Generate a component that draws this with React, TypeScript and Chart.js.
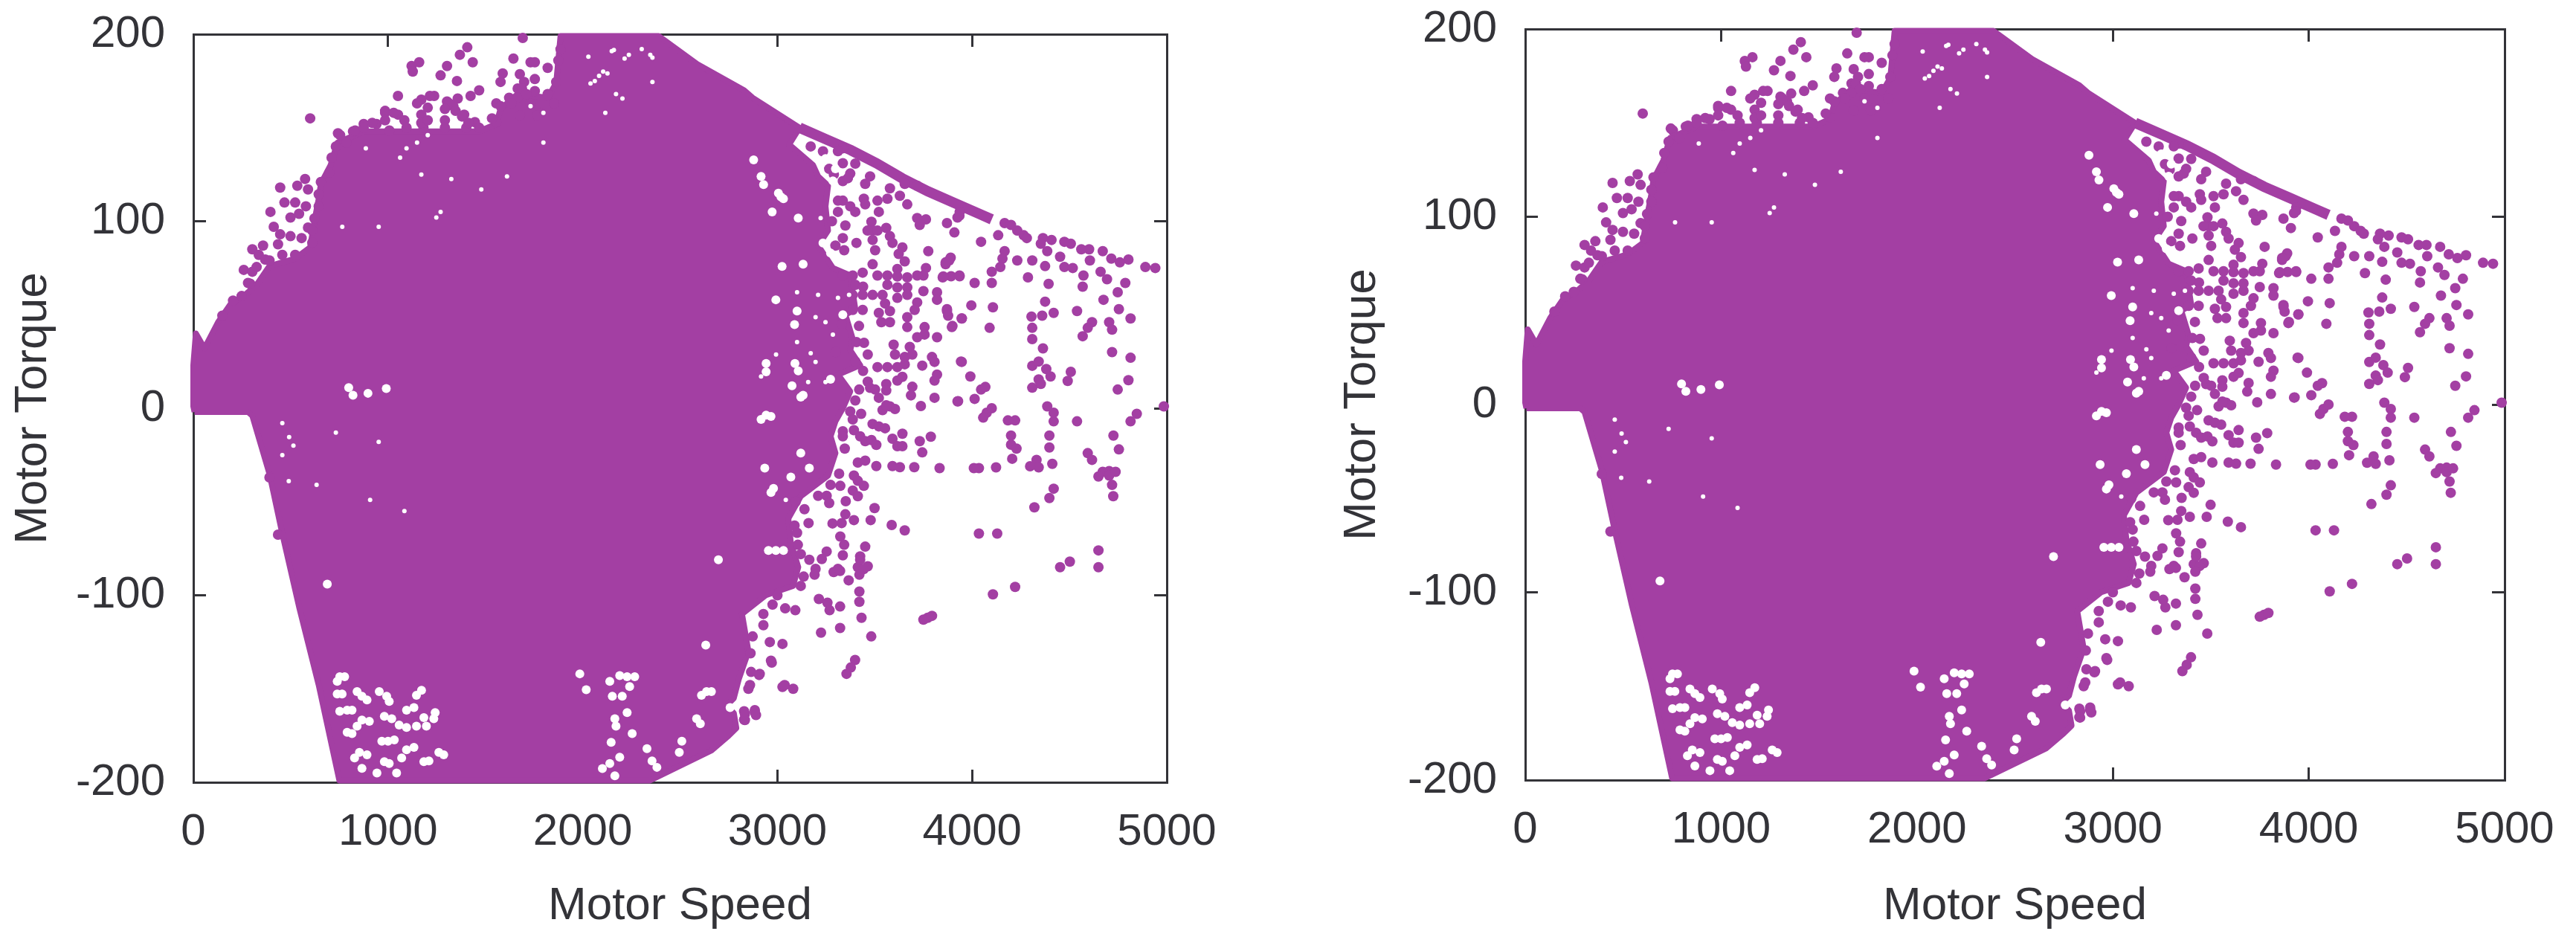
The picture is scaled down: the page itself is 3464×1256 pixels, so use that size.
import React, { useEffect, useRef } from "react";
import { Chart, registerables } from "chart.js";

Chart.register(...registerables);

type Pair = [number, number];

const xTicks = [0, 1000, 2000, 3000, 4000, 5000];
const yTicks = [-200, -100, 0, 100, 200];
const xTitle = "Motor Speed";
const yTitle = "Motor Torque";

// Outline of the saturated part of the cloud (speed, torque)
const denseOutline: Pair[] = [
  [6, -2], [0, 1], [0, 23], [13, 40], [57, 32], [127, 46], [193, 56], [259, 60], [325, 66], [391, 76], [523, 80], [600, 86], [622, 100],
  [644, 112], [655, 120], [705, 130], [740, 142], [875, 148], [1095, 148], [1468, 148], [1556, 152], [1578, 160], [1666, 168], [1820, 166],
  [1864, 174], [1886, 199], [2390, 199], [2588, 184], [2829, 170], [2873, 166], [3114, 150], [3060, 141], [3183, 130], [3209, 124], [3260, 119],
  [3247, 108], [3260, 95], [3209, 87], [3285, 75], [3374, 71], [3400, 53], [3349, 50], [3387, 37], [3374, 31], [3425, 23], [3311, 18], [3374, 9],
  [3336, 0], [3298, -7], [3273, -15], [3298, -24], [3260, -36], [3120, -47], [3056, -59], [3069, -72], [3107, -85], [3080, -95], [2939, -100],
  [2818, -110], [2851, -130], [2801, -145], [2776, -155], [2738, -159], [2776, -163], [2789, -171], [2750, -175], [2661, -183], [2483, -192],
  [2346, -199], [750, -199], [644, -148], [545, -107], [457, -67], [391, -35], [303, -4], [281, -2], [6, -2],
];

// Upper torque limit followed by the fast samples
const envelope: Pair[] = [
  [3114, 150], [3246, 144], [3377, 138], [3509, 131], [3640, 123], [3772, 116], [3904, 110], [4035, 104], [4101, 101],
];

const scatterRight: Pair[] = [
  [4941, 75], [4890, 75.5], [4803, 79.5], [4759, 78], [4715, 80], [4671, 84], [4601, 85], [4561, 85], [4507, 88], [4474, 89], [4408, 90],
  [4364, 91], [4353, 88], [4386, 84], [4375, 76], [4452, 81], [4474, 75.5], [4517, 75], [4572, 71], [4605, 79], [4660, 73], [4693, 69],
  [4787, 67], [4568, 65], [4393, 66.5], [4287, 70], [4309, 79], [4232, 79], [4156, 80], [4145, 75.5], [4101, 73], [4167, 84], [4134, 92.5],
  [4046, 89], [4232, 95], [4265, 92.5], [4281, 91], [4167, 99], [4200, 98], [4375, 57], [4675, 58], [4748, 62], [4754, 53], [4814, 48],
  [4539, 52], [4419, 51], [4360, 49.5], [4305, 49], [4309, 43], [4309, 37], [4364, 32], [4616, 46], [4594, 43], [4568, 38.5], [4704, 46],
  [4719, 42], [4719, 30], [4814, 27], [4803, 15], [4748, 10], [4985, 1], [4846, -3], [4814, -7], [4726, -14.6], [4754, -22], [4539, -7],
  [4386, 1], [4419, -2.4], [4419, -7], [4397, -14.6], [4397, -21], [4221, -6.5], [4184, -6.5], [4200, -14.6], [4200, -19.5], [4228, -21.6],
  [4206, -27], [4331, -27.6], [4342, -31.6], [4412, -29.7], [4298, -31], [4594, -24], [4616, -27.6], [4704, -33.6], [4671, -34], [4123, -31.6],
  [4035, -32], [4009, -32], [4075, -2.4], [4101, 0], [4057, -5], [3925, 3.7], [4013, 5], [4046, 10], [4068, 11.4], [3991, 17], [3943, 25],
  [4309, 22.7], [4342, 25], [4381, 21], [4403, 17], [4342, 15.4], [4309, 11], [4353, 13], [4507, 19.5], [4491, 14.6],
  [4090, 43], [4107, 54], [3996, 55], [3947, 48], [3899, 44], [3871, 53], [3877, 49.5], [4101, 67], [4013, 67], [3936, 70.6], [3892, 70.6],
  [3849, 70], [3882, 79], [3864, 77], [3925, 102], [3936, 105],
];

const scatterMiddle: Pair[] = [
  [3171, 140], [3234, 137.4], [3266, 128], [3476, 124], [3451, 120], [3444, 112], [3451, 109], [3514, 111], [3521, 105], [3565, 112], [3629, 113.6],
  [3667, 109], [3718, 101.7], [3763, 101], [3731, 98], [3871, 99], [3909, 94], [3935, 103], [3578, 117.6], [3654, 120], [3718, 119], [3336, 121.5],
  [3311, 105], [3349, 97.7], [3483, 99.7], [3489, 95], [3463, 95], [3514, 95], [3559, 96.4], [3578, 92], [3591, 88.4], [3489, 90], [3406, 88.4],
  [3336, 91], [3298, 87], [3343, 84.5], [3642, 86], [3623, 82.5], [3502, 84.5], [3489, 77], [3775, 84], [3890, 80.5], [3864, 78], [3935, 71], [3852, 70.5],
  [3763, 75], [3750, 71], [3654, 78.5], [3616, 74.5], [3336, 71], [3387, 71], [3438, 72.5], [3514, 71], [3565, 71], [3616, 70.5], [3667, 70], [3718, 71],
  [3400, 66], [3440, 65], [3565, 66], [3616, 64.6], [3667, 64.6], [3387, 60.6], [3438, 60.6], [3489, 60.6], [3540, 60.6], [3616, 59], [3667, 60.6], [3750, 62.6],
  [3820, 62], [3820, 58], [3718, 56.6], [3705, 52.6], [3553, 56], [3578, 52], [3521, 51], [3534, 46], [3578, 46], [3667, 48.7], [3667, 43.4], [3871, 52],
  [3947, 48], [3896, 43.4], [3756, 43.4], [3756, 39.4], [3820, 38], [3718, 38], [3419, 44], [3406, 35.4], [3597, 34], [3680, 32.8], [3438, 52.6], [3387, 52.6],
  [3336, 139], [3400, 130.8], [3374, 125.5], [3336, 131], [3311, 137.5], [3362, 123], [3336, 111], [3374, 108], [3400, 105], [3311, 111], [3290, 125], [3280, 100],
  [3947, 24.8], [3820, 18], [3807, 14.8], [3744, 22.8], [3807, 5.6], [3928, 3.8], [3737, 1.2], [3693, 11.5], [3686, 6.9], [3578, 1], [3540, -1], [3604, -0.4],
  [3559, 1.6], [3464, 28.7], [3514, 22], [3565, 22], [3616, 22], [3654, 23.5], [3604, 28.7], [3654, 27.4], [3693, 28.7], [3794, 27.4], [3807, 24.8], [3464, 14.2],
  [3476, 10.9], [3502, 10], [3559, 12.9], [3559, 9.5], [3616, 14.8], [3521, 5.6], [3642, 16.8], [3400, 4.2], [3374, -1.7], [3387, -6], [3489, -8.4], [3521, -9.7],
  [3553, -10.7], [3393, -11.7], [3425, -15], [3451, -17.6], [3483, -17], [3508, -19.6], [3591, -16.3], [3642, -13.6], [3731, -17.6], [3788, -15.2], [3616, -20.3],
  [3642, -20.3], [3744, -23.6], [3336, -12.3], [3336, -15], [3346, -21.6], [3413, -29], [3451, -28], [3508, -30.9], [3591, -30.9], [3629, -31.5], [3703, -31.5],
  [3833, -32], [3317, -35], [3393, -36], [3413, -38.8], [3444, -41.5], [3273, -41], [3323, -41.5], [3387, -44], [3413, -47], [3209, -46.8], [3253, -46.8], [3266, -50.7],
  [3351, -49.7], [3499, -53.4], [3139, -54], [3094, -50], [3349, -56.7], [3393, -59.8], [3479, -59.8], [3330, -61.4], [3283, -61.6], [3160, -61.4], [3587, -62.4],
  [3654, -65.3], [3088, -62.7], [3101, -66.6], [3323, -68.6], [3343, -73], [3451, -74], [3105, -73], [3336, -78.6], [3253, -76.6], [3228, -80.6], [3164, -81],
  [3425, -79.2], [3464, -84.5], [3413, -85], [3311, -85.9], [3196, -85.9], [3400, 25], [3440, 20], [3420, 10], [3445, 35], [3430, -3], [3300, 30], [3330, 45],
];

const scatterLower: Pair[] = [
  [3191, -89], [3289, -87.6], [3322, -87], [3425, -81], [3443, -86], [3421, -89], [3366, -92], [3421, -98], [3421, -103.5], [3213, -102], [3257, -104],
  [3268, -108], [3322, -106], [3092, -108], [3432, -112], [3224, -120], [3322, -117.5], [3482, -122], [2928, -110], [2928, -116], [2873, -122],
  [2961, -125], [3026, -126], [2971, -136], [2862, -131], [2906, -142.6], [2851, -150], [3026, -149], [3081, -150], [2829, -166.5], [2884, -162.5],
  [2829, -162], [3399, -134.6], [3377, -138.6], [3355, -142], [3772, -112], [3750, -113], [3794, -111], [4035, -67], [4129, -67], [4320, -53],
  [4397, -48], [4419, -43], [4719, -41], [4725, -47], [4649, -36.5], [4704, -36], [4737, -34], [4452, -85], [4502, -82], [4649, -76], [4649, -85],
  [4221, -95.5], [4107, -99.5], [2967, -135], [2909, -142], [2865, -141], [2859, -148], [3037, -148], [2884, -161.4], [2833, -163.4], [2833, -166.7], [2890, -164],
  [3120, -95], [3135, -90], [3120, -78], [2975, -105], [3000, -100], [3040, -107],
];

const scatterLeft: Pair[] = [
  [1692, 198], [1407, 193], [1369, 189], [1435, 185], [1160, 185], [1121, 183], [1127, 180], [1303, 183], [1270, 178], [1354, 175], [1644, 187],
  [1732, 185], [1754, 185], [1589, 179], [1578, 174.5], [1677, 178.6], [1754, 176], [1820, 182], [1699, 174.5], [1051, 167], [1237, 167], [1171, 165],
  [1468, 170], [1424, 167], [1358, 165.6], [1303, 164], [1204, 160.7], [1171, 157], [1292, 154], [1336, 161.5], [1391, 157], [1446, 153], [985, 158],
  [1051, 157], [1084, 154], [600, 155], [875, 152], [941, 152], [820, 148], [754, 146], [1556, 163], [1666, 171], [1732, 163], [1787, 158], [574, 122.6],
  [534, 119], [589, 117], [446, 118], [523, 110], [578, 108], [468, 110], [396, 105], [499, 102], [543, 104], [413, 97], [446, 93], [499, 92], [556, 91],
  [435, 87.7], [358, 87], [303, 85], [336, 82], [259, 74], [303, 73], [292, 66.6], [369, 79.5], [457, 82], [589, 96.6], [435, -67.6], [391, -37],
  [149, 49.5], [204, 57.6], [248, 60], [281, 67], [325, 75.5], [391, 79], [523, 82], [611, 88.5], [611, 95], [622, 101.5], [644, 108], [644, 114.4], [655, 121],
  [699, 126], [710, 134], [732, 140], [743, 147], [787, 142], [831, 148.5], [875, 150], [1007, 148.5], [1095, 150], [1182, 150], [1292, 150], [1402, 150],
  [1468, 150], [1556, 153], [1578, 161.5], [1622, 166], [1688, 171], [1754, 169.6], [1820, 168], [1864, 174.5], [1875, 186], [1886, 192],
  [985, 159], [1029, 158], [1149, 163], [1215, 167], [1314, 163], [1347, 159], [1380, 156], [1413, 152.6], [1534, 155], [1666, 166], [1710, 168], [1633, 163],
  [1677, 156.6], [1765, 156.6], [1853, 163], [1292, 160], [1171, 152.6], [1204, 154], [985, 154], [919, 152.6],
];

// Small uncovered specks inside the saturated area
const gaps: Pair[] = [
  [1248, 102], [1270, 105], [1095, 139], [1149, 142], [1204, 146], [1062, 134], [2105, 180], [2062, 175], [2149, 191], [2215, 187], [2347, 189], [2171, 168],
  [1732, 161.5], [1798, 158], [1798, 142], [952, 97], [765, 97], [1171, 125], [1325, 122.6], [1479, 117], [1611, 124], [886, 139], [457, -8], [492, -15.4],
  [514, -20], [732, -13], [457, -25], [952, -18], [490, -39], [908, -49], [1084, -55], [633, -41], [2029, 188], [2127, 179], [2084, 177.7], [2040, 173.7],
  [2160, 191.6], [2237, 189], [2303, 192], [2358, 187.5], [2358, 174.5], [2204, 165.6], [2116, 158], [3158, 14], [3247, 14], [3043, -49], [2916, 17],
  [3196, 48.7], [3247, 46], [3285, 39.4], [3101, 35.4], [3311, 59], [3368, 60.6], [3209, 60.6], [3101, 62], [3222, 101.7], [3196, 24.8], [3171, 29.4], [2993, 28.7],
];

// Wider uncovered patches
const wideGaps: Pair[] = [
  [798, 11], [820, 7], [897, 8], [991, 10.5], [688, -94],
  [752, -143.5], [777, -143.5], [739, -146], [841, -151.5], [866, -154], [892, -156], [955, -151.5], [993, -154], [1006, -156.8], [739, -152.8], [764, -152.8],
  [752, -162], [790, -161.4], [815, -161.4], [866, -166.7], [841, -170], [815, -174], [790, -173.3], [904, -167.4], [981, -164.7], [1019, -166], [1057, -169.4],
  [1095, -170.7], [1146, -170], [1197, -170], [1235, -166], [1242, -162.7], [1133, -160], [1095, -161.4], [1184, -165.4], [968, -178], [1000, -178], [1032, -177.3],
  [853, -184], [892, -185.3], [828, -187], [1095, -182.6], [1133, -181.3], [1070, -187], [981, -189], [1006, -190], [1184, -189], [1210, -188.6], [1261, -184],
  [1286, -185.3], [1172, -150.8], [1146, -153.5], [1044, -195], [943, -195], [866, -192.5],
  [2139, -146], [2152, -154], [2203, -154], [2241, -148.8], [2267, -143.5], [2190, -142.9], [2228, -143.5], [2165, -166], [2171, -170], [2146, -178.6], [2139, -190],
  [2190, -186.6], [2101, -192.6], [2165, -196.5], [2330, -182], [2356, -188.6], [2381, -192], [2254, -174], [2228, -162.7], [2636, -151.5],
  [2610, -153.5], [2661, -151.5], [2585, -166], [2604, -168.7], [2509, -178], [2496, -184], [2757, -160], [1985, -142], [2018, -150.5],
  [2878, 132.8], [2916, 124], [2929, 119.6], [3018, 113], [3005, 115], [3031, 112], [2973, 105], [3107, 101.7], [3132, 77], [3024, 75.8], [2992, 58],
  [3247, 133.5], [3298, 128], [3285, 121.6], [3234, 88.4], [3273, 83], [3336, 50], [3088, 44.7], [3101, 52],
  [2942, 19.5], [2942, 24], [3107, 20], [3090, 24], [3075, 12], [3132, 7], [2942, -3.7], [2916, -6], [2967, -4.4], [3120, 6], [3164, -32], [2980, -42.8], [2967, -45],
  [2935, -32], [3069, -36.8], [2954, -76], [2992, -76], [3031, -76], [3120, -24], [3273, 15.5], [2697, -81], [2632, -126.6],
];

const PURPLE = "#a33fa3";
const INK = "#333338";

const toPoints = (rows: Pair[]) => rows.map(([x, y]) => ({ x, y }));

interface PanelGeometry {
  canvasLeft: number;
  left: number;
  right: number;
  top: number;
  bottom: number;
  yTitlePad: number;
}

const WIDTH = 1732;
const HEIGHT = 1256;

const noOverhang = (s: any) => {
  s.paddingLeft = 0;
  s.paddingRight = 0;
  s.paddingTop = 0;
  s.paddingBottom = 0;
};

function Panel({ geo }: { geo: PanelGeometry }) {
  const ref = useRef<HTMLCanvasElement>(null);
  useEffect(() => {
    if (!ref.current) return;
    const tickFont = { family: "Liberation Sans", size: 60 };
    const titleFont = { family: "Liberation Sans", size: 62 };
    const grid = { drawOnChartArea: false, drawTicks: true, tickLength: -17, tickWidth: 3, tickColor: INK };
    const border = { display: true, width: 3, color: INK };
    const plainLabel = (v: any) => String(v);
    const chart = new Chart(ref.current, {
      type: "scatter",
      data: {
        datasets: [
          {
            label: "gaps",
            data: toPoints(gaps),
            backgroundColor: "#ffffff",
            pointRadius: 3,
            pointBorderWidth: 0,
            order: 0,
          },
          {
            label: "wide gaps",
            data: toPoints(wideGaps),
            backgroundColor: "#ffffff",
            pointRadius: 6,
            pointBorderWidth: 0,
            order: 0.5,
          },
          {
            label: "samples",
            data: toPoints([...scatterRight, ...scatterMiddle, ...scatterLower, ...scatterLeft]),
            backgroundColor: PURPLE,
            pointRadius: 7,
            pointBorderWidth: 0,
            clip: false,
            order: 1,
          },
          {
            label: "limit",
            data: toPoints(envelope),
            showLine: true,
            borderColor: PURPLE,
            borderWidth: 14,
            pointRadius: 0,
            clip: false,
            order: 2,
          },
          {
            label: "dense",
            data: toPoints(denseOutline),
            showLine: true,
            fill: "shape",
            borderColor: PURPLE,
            backgroundColor: PURPLE,
            borderWidth: 8,
            borderJoinStyle: "round",
            pointRadius: 0,
            clip: false,
            order: 3,
          },
        ],
      } as any,
      options: {
        animation: false,
        responsive: false,
        events: [],
        layout: { padding: 0 },
        plugins: { legend: { display: false }, tooltip: { enabled: false } },
        scales: {
          x: {
            type: "linear",
            position: "bottom",
            min: xTicks[0],
            max: xTicks[xTicks.length - 1],
            afterBuildTicks: (s: any) => { s.ticks = xTicks.map((value) => ({ value })); },
            afterFit: (s: any) => { s.height = HEIGHT - geo.bottom; noOverhang(s); },
            grid,
            border,
            ticks: { font: tickFont, color: INK, padding: 48, maxRotation: 0, autoSkip: false, callback: plainLabel },
            title: { display: true, text: xTitle, font: titleFont, color: INK, padding: { top: 0, bottom: 0 } },
          },
          y: {
            type: "linear",
            position: "left",
            min: yTicks[0],
            max: yTicks[yTicks.length - 1],
            afterBuildTicks: (s: any) => { s.ticks = yTicks.map((value) => ({ value })); },
            afterFit: (s: any) => { s.width = geo.left; noOverhang(s); },
            grid,
            border,
            ticks: { font: tickFont, color: INK, padding: 55, autoSkip: false, callback: plainLabel },
            title: { display: true, text: yTitle, font: titleFont, color: INK, padding: { top: geo.yTitlePad, bottom: 0 } },
          },
          x2: {
            type: "linear",
            position: "top",
            min: xTicks[0],
            max: xTicks[xTicks.length - 1],
            afterBuildTicks: (s: any) => { s.ticks = xTicks.map((value) => ({ value })); },
            afterFit: (s: any) => { s.height = geo.top; noOverhang(s); },
            grid,
            border,
            ticks: { display: false },
          },
          y2: {
            type: "linear",
            position: "right",
            min: yTicks[0],
            max: yTicks[yTicks.length - 1],
            afterBuildTicks: (s: any) => { s.ticks = yTicks.map((value) => ({ value })); },
            afterFit: (s: any) => { s.width = WIDTH - geo.right; noOverhang(s); },
            grid,
            border,
            ticks: { display: false },
          },
        },
      } as any,
    });
    return () => chart.destroy();
  }, [geo]);
  return (
    <canvas
      ref={ref}
      width={WIDTH}
      height={HEIGHT}
      style={{ position: "absolute", left: geo.canvasLeft, top: 0, width: WIDTH, height: HEIGHT }}
    />
  );
}

const leftPanel: PanelGeometry = { canvasLeft: 0, left: 260, right: 1569, top: 46, bottom: 1052, yTitlePad: 8 };
const rightPanel: PanelGeometry = { canvasLeft: 1732, left: 319, right: 1636, top: 39, bottom: 1049, yTitlePad: 63 };

export default function App() {
  return (
    <div style={{ position: "fixed", left: 0, top: 0, width: 3464, height: 1256, background: "#ffffff", overflow: "hidden" }}>
      <Panel geo={leftPanel} />
      <Panel geo={rightPanel} />
    </div>
  );
}
